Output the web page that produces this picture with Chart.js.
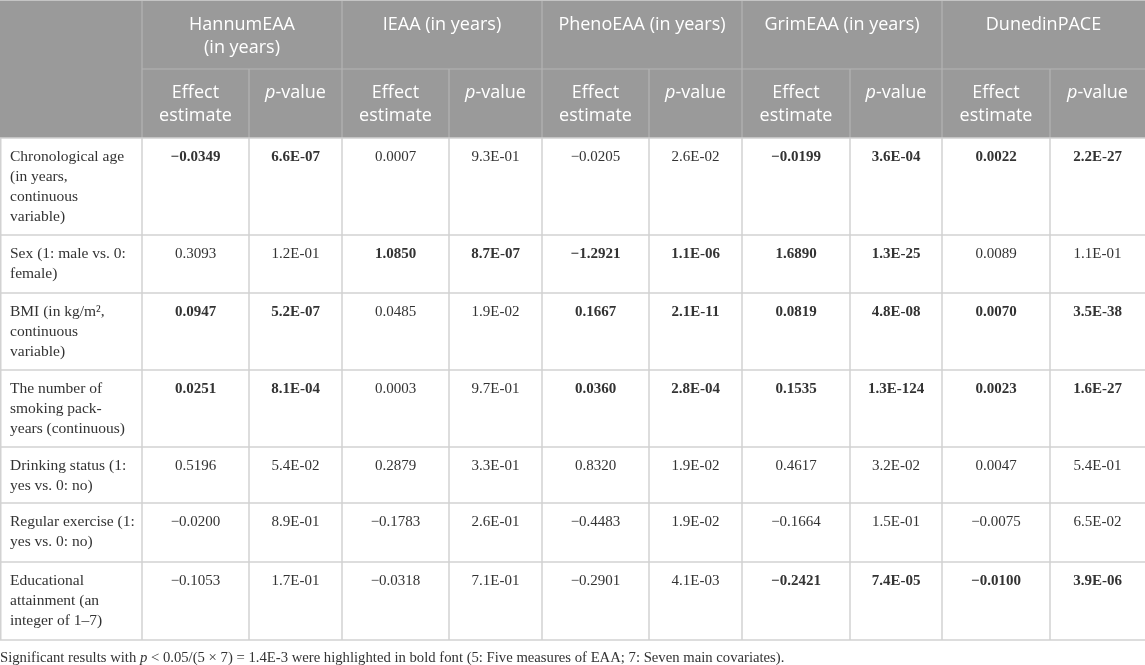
<!doctype html>
<html lang="en">
<head>
<meta charset="UTF-8">
<title>EAA and covariates</title>
<script src="https://cdn.jsdelivr.net/npm/chart.js"></script>
<style>
    html, body { margin: 0; padding: 0; background: #fff; }
    #wrap { width: 1145px; height: 665px; position: relative; }
</style>
</head>
<body>
<div id="wrap"><canvas id="tableChart"></canvas></div>
<script>
// column groups and sub headers
const measures = [['HannumEAA', '(in years)'], ['IEAA (in years)'], ['PhenoEAA (in years)'], ['GrimEAA (in years)'], ['DunedinPACE']];
const subHeaders = [['Effect', 'estimate'], ['p-value']];
// row labels, already broken into lines like in the paper
const covariates = [
    ['Chronological age', '(in years,', 'continuous', 'variable)'],
    ['Sex (1: male vs. 0:', 'female)'],
    ['BMI (in kg/m\u00b2,', 'continuous', 'variable)'],
    ['The number of', 'smoking pack-', 'years (continuous)'],
    ['Drinking status (1:', 'yes vs. 0: no)'],
    ['Regular exercise (1:', 'yes vs. 0: no)'],
    ['Educational', 'attainment (an', 'integer of 1\u20137)']
];
const hannumEffect  = [-0.0349, 0.3093, 0.0947, 0.0251, 0.5196, -0.0200, -0.1053];
const hannumP       = [6.6e-7, 1.2e-1, 5.2e-7, 8.1e-4, 5.4e-2, 8.9e-1, 1.7e-1];
const ieaaEffect    = [0.0007, 1.0850, 0.0485, 0.0003, 0.2879, -0.1783, -0.0318];
const ieaaP         = [9.3e-1, 8.7e-7, 1.9e-2, 9.7e-1, 3.3e-1, 2.6e-1, 7.1e-1];
const phenoEffect   = [-0.0205, -1.2921, 0.1667, 0.0360, 0.8320, -0.4483, -0.2901];
const phenoP        = [2.6e-2, 1.1e-6, 2.1e-11, 2.8e-4, 1.9e-2, 1.9e-2, 4.1e-3];
const grimEffect    = [-0.0199, 1.6890, 0.0819, 0.1535, 0.4617, -0.1664, -0.2421];
const grimP         = [3.6e-4, 1.3e-25, 4.8e-8, 1.3e-124, 3.2e-2, 1.5e-1, 7.4e-5];
const dunedinEffect = [0.0022, 0.0089, 0.0070, 0.0023, 0.0047, -0.0075, -0.0100];
const dunedinP      = [2.2e-27, 1.1e-1, 3.5e-38, 1.6e-27, 5.4e-1, 6.5e-2, 3.9e-6];
const threshold = 1.4e-3; // 0.05/(5 x 7)

const effects = [hannumEffect, ieaaEffect, phenoEffect, grimEffect, dunedinEffect];
const pvalues = [hannumP, ieaaP, phenoP, grimP, dunedinP];

// layout (in page pixels, mapped through the scales)
const colEdges = [0, 142, 249, 342, 449, 542, 649, 742, 850, 942, 1050, 1145];
const rowEdges = [0, 69, 138, 235, 293, 370, 447, 503, 562, 640];
const noteY = 658;

const headFont = '18px "Open Sans"';
const headItalic = 'italic 18px "Open Sans"';
const labelFont = '15.5px "Liberation Serif"';
const bodyFont = '15px "Liberation Serif"';
const bodyBold = 'bold 15px "Liberation Serif"';
const noteFont = '14.7px "Liberation Serif"';
const noteItalic = 'italic 14.7px "Liberation Serif"';

function fmtEffect(v) {
    return (v < 0 ? '\u2212' : '') + Math.abs(v).toFixed(4);
}
function fmtP(p) {
    const parts = p.toExponential(1).split('e');
    let e = parseInt(parts[1], 10);
    const sign = e < 0 ? '-' : '+';
    e = Math.abs(e);
    return parts[0] + 'E' + sign + (e < 10 ? '0' + e : '' + e);
}

const tablePlugin = {
    id: 'tablePlugin',
    afterDraw(chart) {
        const ctx = chart.ctx;
        const X = v => chart.scales.x.getPixelForValue(v);
        const Y = v => chart.scales.y.getPixelForValue(v);
        const hline = (x0, x1, y) => { ctx.beginPath(); ctx.moveTo(X(x0), Y(y)); ctx.lineTo(X(x1), Y(y)); ctx.stroke(); };
        const vline = (x, y0, y1) => { ctx.beginPath(); ctx.moveTo(X(x), Y(y0)); ctx.lineTo(X(x), Y(y1)); ctx.stroke(); };
        const last = colEdges.length - 1;

        ctx.save();
        // header background
        ctx.fillStyle = '#9a9a9a';
        ctx.fillRect(X(colEdges[0]), Y(rowEdges[0]), X(colEdges[last]) - X(colEdges[0]), Y(rowEdges[2]) - Y(rowEdges[0]));

        // header lines
        ctx.strokeStyle = '#b4b4b4';
        ctx.lineWidth = 1.2;
        for (let g = 0; g < measures.length; g++) {
            vline(colEdges[1 + g * 2], rowEdges[0], rowEdges[2]);
            vline(colEdges[2 + g * 2], rowEdges[1], rowEdges[2]);
        }
        hline(colEdges[1], colEdges[last], rowEdges[1]);
        ctx.strokeStyle = '#c4c4c4';
        hline(colEdges[0], colEdges[last], rowEdges[0] + 0.5);

        // body grid
        ctx.strokeStyle = '#d2d2d2';
        ctx.lineWidth = 1.5;
        for (let r = 2; r < rowEdges.length; r++) hline(colEdges[0], colEdges[last], rowEdges[r]);
        for (let c = 0; c < last; c++) vline(colEdges[c] + (c === 0 ? 0.75 : 0), rowEdges[2], rowEdges[rowEdges.length - 1]);

        // header text
        ctx.fillStyle = '#ffffff';
        ctx.textBaseline = 'middle';
        ctx.textAlign = 'center';
        ctx.font = headFont;
        measures.forEach((lines, g) => {
            const cx = (X(colEdges[1 + g * 2]) + X(colEdges[3 + g * 2])) / 2;
            lines.forEach((t, i) => ctx.fillText(t, cx, Y(rowEdges[0]) + 25 + i * 23));
        });
        for (let g = 0; g < measures.length; g++) {
            subHeaders.forEach((lines, k) => {
                const c = 1 + g * 2 + k;
                const cx = (X(colEdges[c]) + X(colEdges[c + 1])) / 2;
                lines.forEach((t, i) => {
                    const y = Y(rowEdges[1]) + 24 + i * 23;
                    if (t.startsWith('p-')) {
                        ctx.font = headItalic;
                        const w1 = ctx.measureText('p').width;
                        ctx.font = headFont;
                        const w2 = ctx.measureText(t.slice(1)).width;
                        const x0 = cx - (w1 + w2) / 2;
                        ctx.textAlign = 'left';
                        ctx.font = headItalic;
                        ctx.fillText('p', x0, y);
                        ctx.font = headFont;
                        ctx.fillText(t.slice(1), x0 + w1, y);
                        ctx.textAlign = 'center';
                    } else {
                        ctx.font = headFont;
                        ctx.fillText(t, cx, y);
                    }
                });
            });
        }

        // body text
        ctx.fillStyle = '#333333';
        covariates.forEach((lines, r) => {
            const top = Y(rowEdges[r + 2]);
            ctx.textAlign = 'left';
            ctx.font = labelFont;
            lines.forEach((t, i) => ctx.fillText(t, X(colEdges[0]) + 10, top + 19 + i * 20));
            ctx.textAlign = 'center';
            for (let g = 0; g < measures.length; g++) {
                const bold = pvalues[g][r] < threshold;
                ctx.font = bold ? bodyBold : bodyFont;
                const c = 1 + g * 2;
                ctx.fillText(fmtEffect(effects[g][r]), (X(colEdges[c]) + X(colEdges[c + 1])) / 2, top + 19);
                ctx.fillText(fmtP(pvalues[g][r]), (X(colEdges[c + 1]) + X(colEdges[c + 2])) / 2, top + 19);
            }
        });

        // footnote
        ctx.textAlign = 'left';
        const note = [
            ['Significant results with ', noteFont],
            ['p', noteItalic],
            [' < 0.05/(5 \u00d7 7) = 1.4E-3 were highlighted in bold font (5: Five measures of EAA; 7: Seven main covariates).', noteFont]
        ];
        let nx = X(0);
        note.forEach(([t, f]) => {
            ctx.font = f;
            ctx.fillText(t, nx, Y(noteY));
            nx += ctx.measureText(t).width;
        });
        ctx.restore();
    }
};

function drawTable() {
    new Chart(document.getElementById('tableChart'), {
        type: 'scatter',
        data: { datasets: [{ data: [], pointRadius: 0 }] },
        options: {
            responsive: true,
            maintainAspectRatio: false,
            animation: false,
            events: [],
            layout: { padding: 0 },
            plugins: { legend: { display: false }, tooltip: { enabled: false } },
            scales: {
                x: { type: 'linear', display: false, min: 0, max: 1145 },
                y: { type: 'linear', display: false, min: 0, max: 665, reverse: true }
            }
        },
        plugins: [tablePlugin]
    });
}

Promise.all([headFont, headItalic, labelFont, bodyFont, bodyBold, noteFont, noteItalic].map(f => document.fonts.load(f)))
    .then(drawTable, drawTable);
</script>
</body>
</html>
